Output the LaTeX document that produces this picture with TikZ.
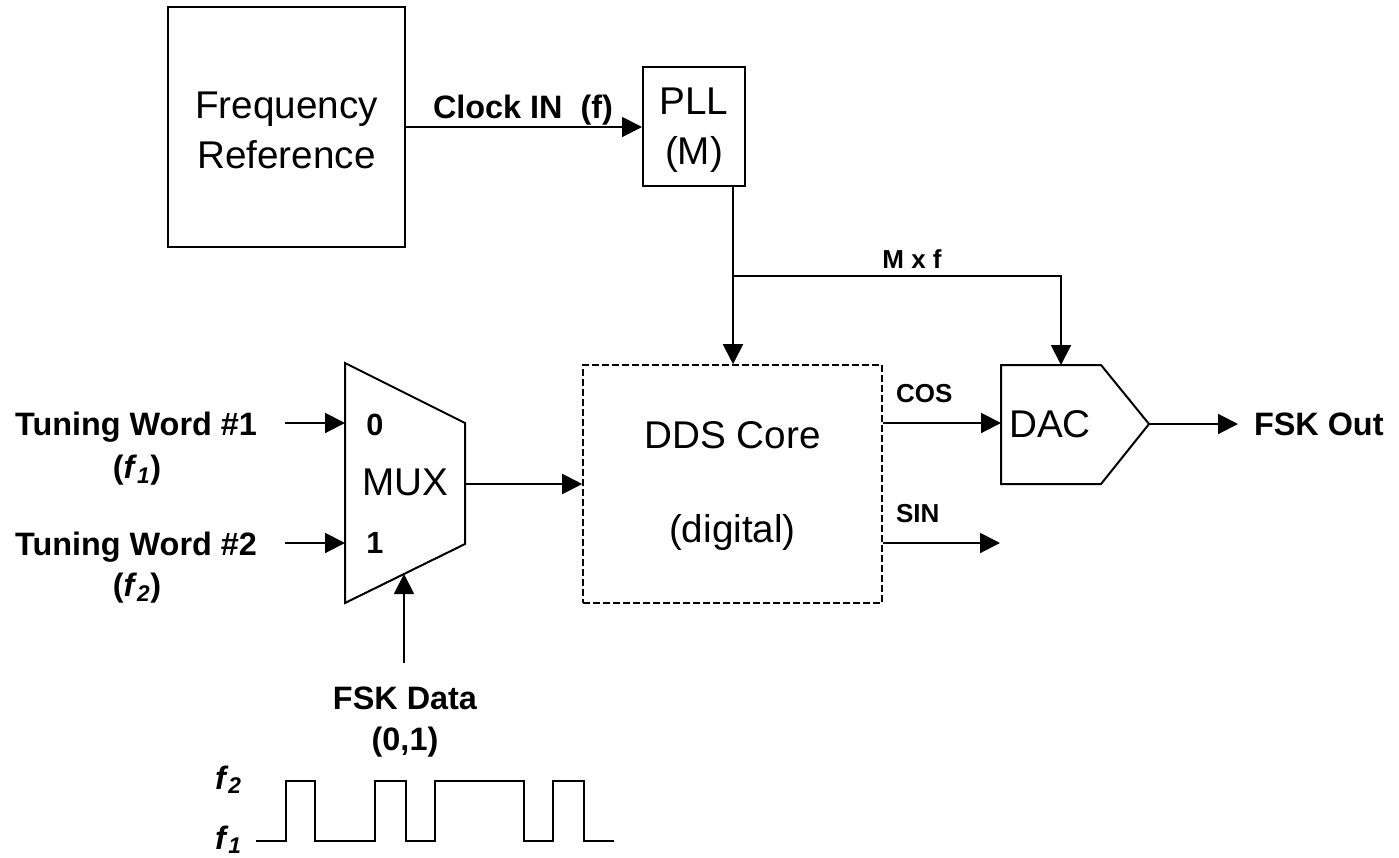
\documentclass[tikz,border=0pt]{standalone}
\usepackage{fontspec}
\setmainfont{Liberation Sans}
\usetikzlibrary{arrows.meta}

\begin{document}
\begin{tikzpicture}[x=0.75pt,y=-0.75pt,
  line width=1.5pt,
  conn/.style={-{Triangle[length=15pt,width=15pt]}},
  big/.style={font=\fontsize{29}{37.5}\selectfont},
  lbl/.style={font=\fontsize{24.3}{30.75}\selectfont\bfseries},
  sml/.style={font=\fontsize{19.5}{24}\selectfont\bfseries},
  blk/.style={draw, inner sep=0pt, big, align=center},
  txt/.style={inner sep=0pt, align=center}]
\useasboundingbox (0,0) rectangle (1399,857);

% blocks
\node[blk, minimum width=177.75pt, minimum height=180pt] (fref) at (286.5,127) {};
\node[txt, big] (freft) at (286.5,130) {Frequency\\Reference};
\node[blk, minimum width=76.5pt, minimum height=89.25pt] (pll) at (694,126.5) {};
\node[txt, big] (pllt) at (694,130.5) {PLL\\(M)};
\node[draw, dash pattern=on 5pt off 2.5pt, line width=1.2pt, minimum width=224.25pt, minimum height=178.5pt, inner sep=0pt] (dds) at (732.5,484) {};
\node[txt, big] (ddsa) at (732.5,435) {DDS Core};
\node[txt, big] (ddsb) at (732.5,532) {(digital)};

% multiplexer
\draw (345,363) -- (465,423) -- (465,544) -- (345,603) -- cycle;
\node[txt, big] (muxt) at (405,482) {MUX};
\node[txt, font=\fontsize{23}{28}\selectfont\bfseries] (mux0t) at (375,425) {0};
\node[txt, font=\fontsize{23}{28}\selectfont\bfseries] (mux1t) at (375,543) {1};
\coordinate (mux0) at (345,423);
\coordinate (mux1) at (345,543);
\coordinate (muxo) at (465,484);
\coordinate (muxs) at (404,574);

% DAC
\draw (1001,365) -- (1101,365) -- (1149,424) -- (1101,484) -- (1001,484) -- cycle;
\node[txt, big] (dact) at (1050,424) {DAC};
\coordinate (dacin) at (1001,423);
\coordinate (dactop) at (1061,365);
\coordinate (dacout) at (1149,424);

% input labels
\node[txt, lbl] (tw1) at (136,427) {Tuning Word \#1};
\node[txt, lbl] (f1) at (137,470) {(\textit{f}\textsubscript{\textit{1}})};
\node[txt, lbl] (tw2) at (136,547) {Tuning Word \#2};
\node[txt, lbl] (f2) at (137,588) {(\textit{f}\textsubscript{\textit{2}})};
\coordinate (tw1o) at (285,423);
\coordinate (tw2o) at (285,543);

\node[txt, lbl] (fskd) at (405,722) {FSK Data\\(0,1)};
\coordinate (fskdo) at (404,663);

\node[txt, lbl, anchor=west] (fsko) at (1253,424) {FSK Out};
\coordinate (fskoi) at (1238,424);

% clock path
\node[txt, lbl, anchor=base] (clk) at (523,118) {Clock IN\ \ (f)};
\draw[conn] (fref.east) -- (pll.west |- fref.east);
\coordinate (split) at (733,276);
\draw (pll.south -| split) -- (split);
\draw[conn] (split) -- (split |- dds.north);
\draw[conn] (split) -- (split -| dactop) -- (dactop);
\node[txt, sml, anchor=base] (mxf) at (912,268) {M x f};

% data path
\draw[conn] (tw1o) -- (mux0);
\draw[conn] (tw2o) -- (mux1);
\draw[conn] (fskdo) -- (muxs);
\draw[conn] (muxo) -- (muxo -| dds.west);
\draw[conn] (dacin -| dds.east) -- (dacin);
\coordinate (sinend) at (1000,543);
\draw[conn] (sinend -| dds.east) -- (sinend);
\node[txt, sml, anchor=base west] (cos) at (895,402) {COS};
\node[txt, sml, anchor=base west] (sin) at (895,522) {SIN};
\draw[conn] (dacout) -- (fskoi);

% FSK data waveform
\draw (256,841) -- (286,841) -- (286,781) -- (315,781) -- (315,841) -- (375,841)
  -- (375,781) -- (406,781) -- (406,841) -- (435,841) -- (435,781) -- (524,781)
  -- (524,841) -- (553,841) -- (553,781) -- (584,781) -- (584,841) -- (614,841);
\node[txt, lbl, anchor=base west] (wf2) at (214,789) {\textit{f}\textsubscript{\textit{2}}};
\node[txt, lbl, anchor=base west] (wf1) at (214,849) {\textit{f}\textsubscript{\textit{1}}};
\end{tikzpicture}
\end{document}
